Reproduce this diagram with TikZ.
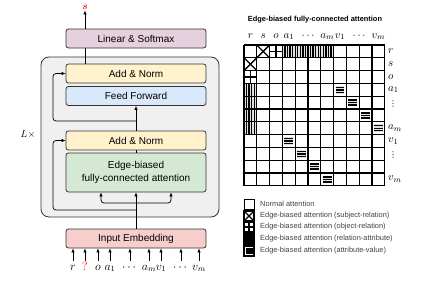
\documentclass[tikz,border=0pt]{standalone}
\usepackage{amsmath,amssymb}
\usepackage{fontspec}
\setmainfont{Liberation Sans}
\newfontfamily\dejavu{DejaVu Sans}
\usepackage{xcolor}
\usepackage{tikz}
\usetikzlibrary{arrows.meta,positioning,calc}
\definecolor{lila}{HTML}{E6D0DE}
\definecolor{amarillo}{HTML}{FFF2CC}
\definecolor{azul}{HTML}{DAE8FC}
\definecolor{verde}{HTML}{D5E8D4}
\definecolor{rosa}{HTML}{F8CECC}
\definecolor{fondo}{HTML}{F0F0F0}
\definecolor{tinta}{HTML}{333333}

% cell patterns: top-left x, top-left y, size (plain numbers)
\newcommand{\xcell}[3]{\draw[patline] (#1,#2) -- ++(#3,#3) ++(-#3,0) -- ++(#3,-#3);}
\newcommand{\pcell}[3]{\draw[patline] (#1,#2) ++(0.5*#3,0) -- ++(0,#3) (#1,#2) ++(0,0.5*#3) -- ++(#3,0);}
\newcommand{\vcell}[3]{\fill[gray!25] (#1,#2) rectangle ++(#3,#3);
  \foreach \f in {0.2,0.4,0.6,0.8} {\draw[barline] (#1,#2) ++(\f*#3,0) -- ++(0,#3);}}
\newcommand{\hcell}[3]{\fill[gray!25] (#1,#2) ++(0.15*#3,0.2*#3) rectangle ++(0.7*#3,0.6*#3);
  \foreach \f in {0.3,0.5,0.7} {\draw[barline] (#1,#2) ++(0.15*#3,\f*#3) -- ++(0.7*#3,0);}}

\begin{document}
\begin{tikzpicture}[x=1pt,y=-1pt,
  box/.style={draw=tinta,line width=0.8pt,rounded corners=2.5pt,minimum width=140pt,minimum height=19pt,
    inner sep=1pt,align=center,font=\fontsize{10}{12}\selectfont},
  arr/.style={-{Latex[length=4pt,width=3.5pt]},line width=0.7pt},
  lnk/.style={line width=0.7pt},
  patline/.style={line width=1.3pt},
  barline/.style={line width=1.4pt},
  tok/.style={anchor=base,inner sep=0pt,font=\large},
  lab/.style={inner sep=0pt,font=\fontsize{11}{12}\selectfont},
  leg/.style={anchor=west,inner sep=0pt,text=black!75,font=\fontsize{7.4}{8}\selectfont}]
  \useasboundingbox (0,0) rectangle (427,281);
  % encoder layer
  \draw[tinta,fill=fondo,line width=0.8pt,rounded corners=8pt] (41,57) rectangle (219,217);
  \node at (28,134) {$L\times$};
  \node[box,fill=lila] (ls) at (136,38.5) {Linear \& Softmax};
  \node[box,fill=amarillo] (an1) at (136,73.5) {Add \& Norm};
  \node[box,fill=azul] (ff) at (136,96) {Feed Forward};
  \node[box,fill=amarillo] (an2) at (136,140.5) {Add \& Norm};
  \node[box,fill=verde,minimum height=39pt] (eb) at (136,172.5) {Edge-biased\\[1pt]fully-connected attention};
  \node[box,fill=rosa] (ie) at (136,238.5) {Input Embedding};
  \node[red,inner sep=1pt] (s) at (85,7) {$\boldsymbol{s}$};
  \coordinate (lft) at (53,0);
  \coordinate (r1) at (136,121);
  \coordinate (r2) at (136,210);
  \coordinate (sp) at (136,203);
  \draw[lnk] (s |- an1.north) -- (s |- ls.south);
  \draw[arr] (s |- ls.north) -- (s.south);
  \draw[arr] (an2.north) -- (ff.south);
  \draw[arr,rounded corners=3pt] (r1) -| (lft |- an1.west) -- (an1.west);
  \draw[lnk] (eb.north) -- (an2.south);
  \draw[arr] (ie.north) -- (eb.south);
  \draw[arr,rounded corners=3pt] (r2) -| (lft |- an2.west) -- (an2.west);
  \draw[arr,rounded corners=3pt] (sp) -| ([xshift=-35pt]eb.south);
  \draw[arr,rounded corners=3pt] (sp) -| ([xshift=35pt]eb.south);
  % input tokens
  \foreach \x/\t [count=\i] in {73/r,85/{\textcolor{red}{?}},98/o,110/a_1,130/\cdots,149/a_m,161/v_1,181/\cdots,199/v_m}{
    \node[tok] (t\i) at (\x,270) {$\t$};
    \coordinate (in\i) at (\x,261);
    \draw[arr] (in\i) -- (in\i |- ie.south);
  }
  % attention matrix
  \node[font=\bfseries\fontsize{7.4}{8}\selectfont] (title) at (315,20) {Edge-biased fully-connected attention};
  \foreach \kind/\cc/\rr in {x/2/1,x/1/2,p/3/1,p/1/3,v/4/1,v/5/1,v/6/1,v/7/1,v/1/4,v/1/5,v/1/6,v/1/7,
      h/8/4,h/9/5,h/10/6,h/11/7,h/4/8,h/5/9,h/6/10,h/7/11}{
    \pgfmathsetmacro\cx{244+(\cc-1)*12.8}
    \pgfmathsetmacro\cy{45+(\rr-1)*12.8}
    \csname\kind cell\endcsname{\cx}{\cy}{12.8}
  }
  \foreach \i in {0,...,11}{
    \draw[line width=1.3pt] (244+\i*12.8,45) -- (244+\i*12.8,185.8);
    \draw[line width=1.3pt] (244,45+\i*12.8) -- (384.8,45+\i*12.8);
  }
  \foreach \x/\t [count=\i] in {250.4/r,263.2/s,276/o,288.8/a_1,309/\cdots,327.2/a_m,340/v_1,360/\cdots,378.4/v_m}
    \node[lab,anchor=base] (col\i) at (\x,38) {$\t$};
  \foreach \y/\t [count=\i] in {51.4/r,64.2/s,77/o,89.8/a_1,128.2/a_m,141/v_1,179.4/v_m}
    \node[lab,anchor=west] (row\i) at (388,\y) {$\t$};
  \node[inner sep=0pt,font=\dejavu\fontsize{8}{8}\selectfont,anchor=west] (dots1) at (389,104) {⋮};
  \node[inner sep=0pt,font=\dejavu\fontsize{8}{8}\selectfont,anchor=west] (dots2) at (389,155) {⋮};
  % legend
  \draw[line width=0.9pt] (244,199) rectangle ++(10,10);
  \node[leg] (leg1) at (260,204) {Normal attention};
  \xcell{244}{211}{10} \draw[line width=1.3pt] (244,211) rectangle ++(10,10);
  \node[leg] (leg2) at (260,216) {Edge-biased attention (subject-relation)};
  \pcell{244}{222}{10} \draw[line width=1.3pt] (244,222) rectangle ++(10,10);
  \node[leg] (leg3) at (260,227) {Edge-biased attention (object-relation)};
  \vcell{244}{234}{10} \draw[line width=1.3pt] (244,234) rectangle ++(10,10);
  \node[leg] (leg4) at (260,239) {Edge-biased attention (relation-attribute)};
  \hcell{244}{246}{10} \draw[line width=1.3pt] (244,246) rectangle ++(10,10);
  \node[leg] (leg5) at (260,251) {Edge-biased attention (attribute-value)};
\end{tikzpicture}
\end{document}
